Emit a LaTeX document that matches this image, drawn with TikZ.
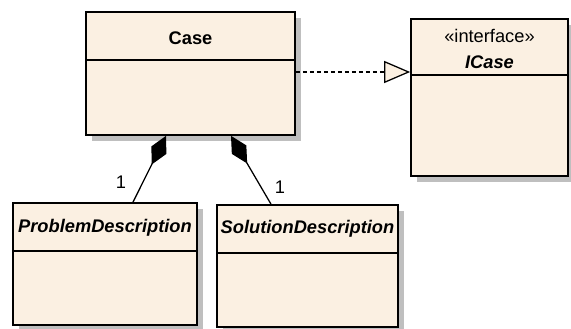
\documentclass[tikz,border=0pt]{standalone}
\usepackage{fontspec}
\setmainfont{Liberation Sans}
\usetikzlibrary{arrows.meta,shadows}

\definecolor{classfill}{HTML}{FBF0E2}

\tikzset{
  classbox/.style={draw, line width=1.2pt, fill=classfill, inner sep=0pt,
    drop shadow={shadow xshift=0.15cm, shadow yshift=-0.15cm, fill=black!25, opacity=1}},
  classname/.style={font=\fontsize{13}{15}\selectfont\bfseries},
  abstractname/.style={font=\fontsize{13}{15}\selectfont\bfseries\itshape},
  stereo/.style={font=\fontsize{13}{15}\selectfont},
  mult/.style={font=\fontsize{13}{15}\selectfont},
  compose/.style={line width=0.9pt, -{Diamond[length=0.8cm, width=0.42cm]}},
  realize/.style={line width=0.9pt, dash pattern=on 0.1cm off 0.075cm,
    -{Triangle[open, length=0.65cm, width=0.55cm, fill=classfill]}}
}

\begin{document}
\begin{tikzpicture}
  \useasboundingbox (0,0) rectangle (14.275,8.225);

  % Case
  \node[classbox, minimum width=5.225cm, minimum height=3.075cm] (case) at (4.7625,6.3875) {};
  \node[classname] (case-name) at ([yshift=-0.675cm]case.north) {Case};
  \draw[line width=1.2pt] ([yshift=-1.225cm]case.north west) -- ([yshift=-1.225cm]case.north east);

  % ICase
  \node[classbox, minimum width=3.925cm, minimum height=3.925cm] (icase) at (12.2375,5.7875) {};
  \node[stereo] (icase-stereo) at ([yshift=-0.45cm]icase.north) {«interface»};
  \node[abstractname] (icase-name) at ([yshift=-1.1cm]icase.north) {ICase};
  \draw[line width=1.2pt] ([yshift=-1.425cm]icase.north west) -- ([yshift=-1.425cm]icase.north east);

  % ProblemDescription
  \node[classbox, minimum width=4.6cm, minimum height=3.05cm] (pd) at (2.625,1.625) {};
  \node[abstractname] (pd-name) at ([yshift=-0.65cm]pd.north) {ProblemDescription};
  \draw[line width=1.2pt] ([yshift=-1.225cm]pd.north west) -- ([yshift=-1.225cm]pd.north east);

  % SolutionDescription
  \node[classbox, minimum width=4.525cm, minimum height=3.05cm] (sd) at (7.6875,1.575) {};
  \node[abstractname] (sd-name) at ([yshift=-0.625cm]sd.north) {SolutionDescription};
  \draw[line width=1.2pt] ([yshift=-1.225cm]sd.north west) -- ([yshift=-1.225cm]sd.north east);

  % relations
  \draw[realize] ([yshift=0.0375cm]case.east) -- ([yshift=0.0375cm]case.east -| icase.west);
  \draw[compose] ([xshift=0.7cm]pd.north) -- ([xshift=-0.6125cm]case.south);
  \draw[compose] ([xshift=-0.9125cm]sd.north) -- ([xshift=1.0125cm]case.south);

  \node[mult] (pd-mult) at (3.025,3.675) {1};
  \node[mult] (sd-mult) at (7.0,3.55) {1};
\end{tikzpicture}
\end{document}
